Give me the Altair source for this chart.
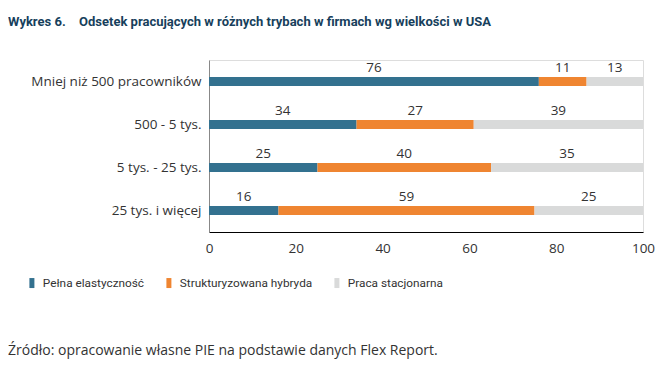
import altair as alt
import pandas as pd

categories = ["Mniej niż 500 pracowników", "500 - 5 tys.", "5 tys. - 25 tys.", "25 tys. i więcej"]
modes = ["Pełna elastyczność", "Strukturyzowana hybryda", "Praca stacjonarna"]
pelna = [76, 34, 25, 16]
hybryda = [11, 27, 40, 59]
stacjonarna = [13, 39, 35, 25]
colors = ["#33718f", "#ef8531", "#d9dada"]
x_ticks = [0, 20, 40, 60, 80, 100]

rows = []
for series_idx, (mode, vals) in enumerate(zip(modes, [pelna, hybryda, stacjonarna])):
    for cat, v in zip(categories, vals):
        rows.append({"cat": cat, "mode": mode, "value": v, "ord": series_idx})
df = pd.DataFrame(rows)

FONT = "Open Sans"
TEXT = "#333333"
FS = 13.5

base = alt.Chart(df)

bars = base.mark_bar(size=9).encode(
    y=alt.Y("cat:N", sort=categories, title=None,
            axis=alt.Axis(ticks=False, domainColor="#888888", labelFontSize=FS,
                          labelColor=TEXT, labelFont=FONT, labelPadding=8, labelLimit=300)),
    x=alt.X("value:Q", stack="zero", scale=alt.Scale(domain=[0, 100], nice=False),
            axis=alt.Axis(values=x_ticks, ticks=False, grid=False, domainColor="#000000",
                          labelFontSize=FS, labelColor=TEXT, labelFont=FONT, labelPadding=9,
                          title=None, labelFlush=False)),
    color=alt.Color("mode:N", sort=modes, scale=alt.Scale(domain=modes, range=colors),
                    legend=alt.Legend(orient="none", legendX=-183, legendY=217,
                                      direction="horizontal", title=None,
                                      symbolType="M-0.5,-1H0.5V1H-0.5Z", symbolSize=100,
                                      symbolStrokeWidth=0, labelFontSize=11.8, labelFont="Roboto",
                                      labelColor=TEXT, columnPadding=18, labelOffset=5,
                                      labelLimit=400)),
    order=alt.Order("ord:Q"),
)

labels = base.transform_stack(
    stack="value", groupby=["cat"], as_=["v0", "v1"], sort=[alt.SortField("ord")]
).transform_calculate(mid="(datum.v0 + datum.v1) / 2").mark_text(
    dy=-14, fontSize=FS, font=FONT, color=TEXT
).encode(
    x=alt.X("mid:Q"),
    y=alt.Y("cat:N", sort=categories),
    text="value:Q",
)

one = pd.DataFrame({"a": [0]})
TCOL = "#173f5c"
TFONT = "Roboto"
title1 = alt.Chart(one).mark_text(align="left", baseline="middle", fontSize=13, fontWeight="bold",
                                  font=TFONT, color=TCOL).encode(
    x=alt.value(-201), y=alt.value(-38), text=alt.value("Wykres 6."))
title2 = alt.Chart(one).mark_text(align="left", baseline="middle", fontSize=13, fontWeight="bold",
                                  font=TFONT, color=TCOL).encode(
    x=alt.value(-130), y=alt.value(-38), text=alt.value("Odsetek pracujących w różnych trybach w firmach wg wielkości w USA"))
source = alt.Chart(one).mark_text(align="left", baseline="middle", fontSize=14, font=FONT,
                                  color=TEXT).encode(
    x=alt.value(-201), y=alt.value(291), text=alt.value("Źródło: opracowanie własne PIE na podstawie danych Flex Report."))

chart = alt.layer(bars, labels, title1, title2, source).properties(
    width=434, height=172,
    autosize=alt.AutoSizeParams(type="none"),
    padding={"left": 201, "top": 52, "right": 12, "bottom": 128},
).configure_view(stroke=None).configure(background="white")

chart.save("out.html", embed_options={"renderer": "svg", "actions": False})
